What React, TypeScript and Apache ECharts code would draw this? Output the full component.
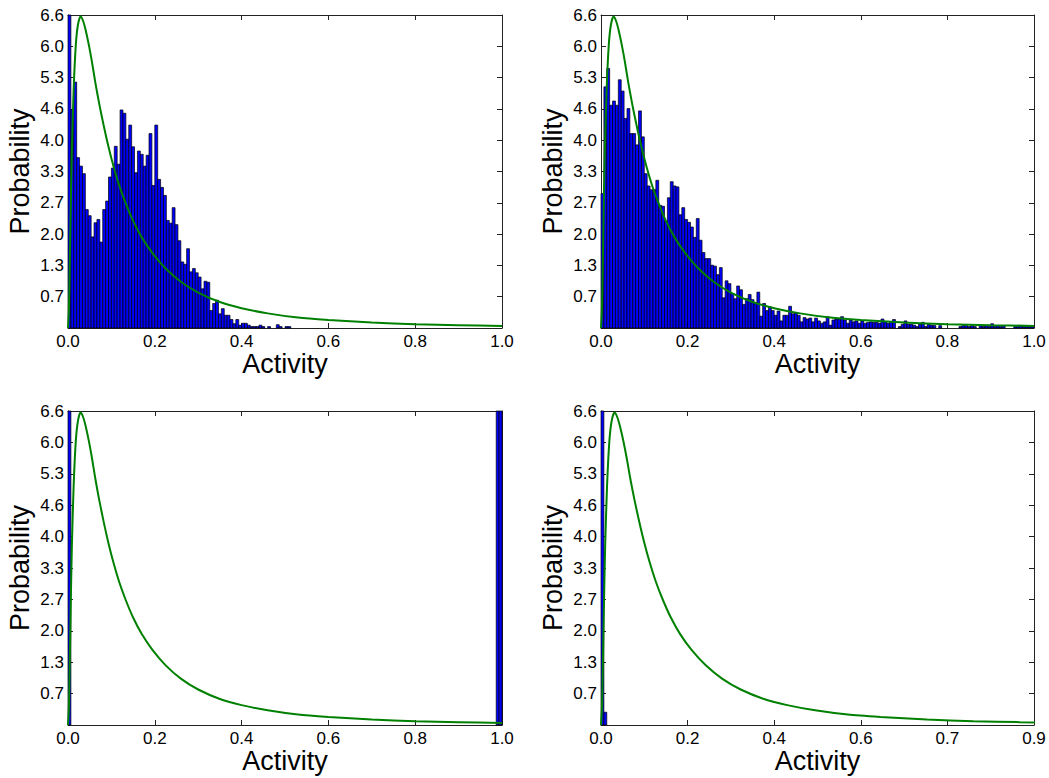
import React, { useEffect, useRef } from 'react';
import * as echarts from 'echarts';

// ---------- data ----------
const BIN_COUNT = 150;
const Y_MAX = 6.632;
const Y_STEP = 0.6632;
const yTickLabels = ['', '0.7', '1.3', '2.0', '2.7', '3.3', '4.0', '4.6', '5.3', '6.0', '6.6'];
const xTickLabelsFull = ['0.0', '0.2', '0.4', '0.6', '0.8', '1.0'];
const xTickLabelsShort = ['0.0', '0.2', '0.4', '0.6', '0.7', '0.9'];
const X_MAX_FULL = 1.0;
const X_STEP_FULL = 0.2;
const X_MAX_SHORT = 0.93;
const X_STEP_SHORT = 0.186;

// histogram heights per bin (bin i covers [i, i+1] * xMax / 150); missing bins are empty
const topLeftHeights = [
  9.5, 4.63, 5.21, 3.61, 3.43, 3.27, 2.51, 2.38, 1.93, 2.23,
  2.30, 1.82, 2.51, 2.69, 3.20, 3.39, 3.85, 3.47, 4.62, 4.55,
  4.00, 4.30, 3.84, 3.29, 3.75, 3.68, 3.43, 3.66, 4.12, 3.02,
  4.30, 3.15, 2.98, 2.81, 2.28, 2.22, 2.55, 2.19, 1.85, 1.40,
  1.35, 1.68, 1.19, 1.26, 1.17, 1.08, 0.83, 0.99, 0.97, 0.37,
  0.52, 0.59, 0.30, 0.41, 0.27, 0.27, 0.18, 0.09, 0.18, 0.06,
  0.10, 0.10, 0.06, 0.03, 0.03, 0.03, 0.06, 0.03, 0, 0.03,
  0, 0, 0.07, 0.03, 0, 0.03, 0.03, 0,
];

const topRightHeights = [
  2.85, 5.11, 5.50, 4.72, 4.81, 4.72, 5.26, 5.02, 4.44, 4.65,
  4.12, 4.12, 3.88, 4.60, 4.05, 3.27, 3.01, 2.93, 2.93, 3.13,
  2.60, 2.58, 2.26, 2.76, 3.10, 3.01, 2.99, 2.40, 2.55, 2.30,
  2.24, 2.14, 1.92, 2.32, 1.86, 1.60, 1.47, 1.47, 1.33, 1.31,
  1.13, 1.28, 0.64, 1.00, 0.94, 0.73, 0.62, 0.89, 0.81, 0.50,
  0.62, 0.71, 0.60, 0.54, 0.76, 0.25, 0.52, 0.37, 0.45, 0.37,
  0.27, 0.36, 0.15, 0.27, 0.27, 0.46, 0.30, 0.32, 0.27, 0.13,
  0.22, 0.19, 0.21, 0.13, 0.21, 0.15, 0.10, 0.13, 0.24, 0.06,
  0.17, 0.19, 0.19, 0.24, 0.17, 0.10, 0.17, 0.13, 0.15, 0.10,
  0.15, 0.10, 0.12, 0.13, 0.12, 0.12, 0.10, 0.19, 0.13, 0.10,
  0.13, 0.18, 0, 0.03, 0.08, 0.15, 0.08, 0.08, 0.06, 0.03,
  0.08, 0.12, 0.03, 0.08, 0.06, 0.05, 0, 0.05, 0, 0,
  0, 0, 0, 0, 0.03, 0.05, 0.05, 0.03, 0.05, 0.03,
  0, 0.05, 0.03, 0.05, 0.03, 0.09, 0.03, 0.05, 0.03, 0.05,
  0, 0, 0, 0.03, 0.03, 0.05, 0.03, 0.03, 0.03, 0.03,
];

// sparse bins: [binIndex, height]
const bottomLeftBins = [[0, 74.0], [148, 36.5], [149, 38.0]];
const bottomRightBins = [[0, 160.0], [1, 0.27]];

// fitted density curve
const curveX = [
  0, 0.002, 0.004, 0.006, 0.009, 0.013, 0.018, 0.023, 0.029, 0.035,
  0.041, 0.048, 0.055, 0.063, 0.072, 0.082, 0.093, 0.105, 0.118, 0.133,
  0.15, 0.17, 0.195, 0.225, 0.26, 0.3, 0.35, 0.4, 0.46, 0.53,
  0.6, 0.7, 0.8, 0.9, 1.0,
];
const curveY = [
  0, 0.35, 1.3, 2.4, 3.8, 5.05, 6.0, 6.43, 6.6, 6.5,
  6.3, 6.0, 5.65, 5.2, 4.75, 4.3, 3.85, 3.42, 3.02, 2.64,
  2.27, 1.92, 1.58, 1.26, 0.98, 0.75, 0.55, 0.42, 0.31, 0.22,
  0.17, 0.115, 0.08, 0.06, 0.044,
];

// ---------- layout ----------
const FONT = '"Liberation Sans", Arial, Helvetica, sans-serif';
const FRAME = '#222';
const grids = [
  { left: 68, top: 15, width: 434, height: 313 },
  { left: 601, top: 15, width: 433, height: 313 },
  { left: 68, top: 411, width: 434, height: 314 },
  { left: 601, top: 411, width: 433, height: 314 },
];

type Panel = { xMax: number; xStep: number; xLabels: string[]; bins: number[][] };

const panels: Panel[] = [
  { xMax: X_MAX_FULL, xStep: X_STEP_FULL, xLabels: xTickLabelsFull, bins: topLeftHeights.map((h, i) => [i, h]) },
  { xMax: X_MAX_FULL, xStep: X_STEP_FULL, xLabels: xTickLabelsFull, bins: topRightHeights.map((h, i) => [i, h]) },
  { xMax: X_MAX_FULL, xStep: X_STEP_FULL, xLabels: xTickLabelsFull, bins: bottomLeftBins },
  { xMax: X_MAX_SHORT, xStep: X_STEP_SHORT, xLabels: xTickLabelsShort, bins: bottomRightBins },
];

function buildOption() {
  const xAxis: any[] = [];
  const yAxis: any[] = [];
  const series: any[] = [];
  const tick = { show: true, inside: true, length: 5, lineStyle: { color: FRAME, width: 1 } };
  const line = { show: true, onZero: false, lineStyle: { color: FRAME, width: 1 } };

  panels.forEach((p, i) => {
    xAxis.push({
      type: 'value', gridIndex: i, position: 'bottom', min: 0, max: p.xMax, interval: p.xStep,
      axisLine: line, axisTick: tick, splitLine: { show: false },
      axisLabel: {
        show: true, margin: 5, fontSize: 17, color: '#000', fontFamily: FONT,
        showMinLabel: true, showMaxLabel: true,
        formatter: (v: number) => p.xLabels[Math.round(v / p.xStep)] ?? '',
      },
      name: 'Activity', nameLocation: 'middle', nameGap: 21,
      nameTextStyle: { fontSize: 27, color: '#000', fontFamily: FONT },
    });
    xAxis.push({
      type: 'value', gridIndex: i, position: 'top', min: 0, max: p.xMax, interval: p.xStep,
      axisLine: line, axisTick: tick, splitLine: { show: false }, axisLabel: { show: false },
    });
    yAxis.push({
      type: 'value', gridIndex: i, position: 'left', min: 0, max: Y_MAX, interval: Y_STEP,
      axisLine: line, axisTick: tick, splitLine: { show: false },
      axisLabel: {
        show: true, margin: 4, fontSize: 17, color: '#000', fontFamily: FONT,
        showMinLabel: true, showMaxLabel: true,
        formatter: (v: number) => yTickLabels[Math.round(v / Y_STEP)] ?? '',
      },
      name: 'Probability', nameLocation: 'middle', nameGap: 35,
      nameTextStyle: { fontSize: 27, color: '#000', fontFamily: FONT },
    });
    yAxis.push({
      type: 'value', gridIndex: i, position: 'right', min: 0, max: Y_MAX, interval: Y_STEP,
      axisLine: line, axisTick: tick, splitLine: { show: false }, axisLabel: { show: false },
    });

    const w = p.xMax / BIN_COUNT;
    const data = p.bins.filter((b) => b[1] > 0).map((b) => [b[0] * w, (b[0] + 1) * w, b[1]]);
    series.push({
      type: 'custom', xAxisIndex: 2 * i, yAxisIndex: 2 * i, silent: true, z: 2,
      encode: { x: [0, 1], y: 2 },
      data,
      renderItem: (params: any, api: any) => {
        const p0 = api.coord([api.value(0), 0]);
        const p1 = api.coord([api.value(1), api.value(2)]);
        const cs = params.coordSys;
        const top = Math.max(p1[1], cs.y);
        const right = Math.min(p1[0], cs.x + cs.width);
        return {
          type: 'rect',
          shape: { x: p0[0], y: top, width: right - p0[0], height: p0[1] - top },
          style: { fill: '#0000ff', stroke: '#000', lineWidth: 0.7 },
        };
      },
    });
    series.push({
      type: 'line', xAxisIndex: 2 * i, yAxisIndex: 2 * i, silent: true, z: 3,
      data: curveX.map((x, k) => [x, curveY[k]]),
      showSymbol: false, smooth: 0.25, clip: true,
      lineStyle: { color: '#008000', width: 2 },
    });
  });

  return {
    animation: false,
    backgroundColor: '#ffffff',
    grid: grids.map((g) => ({ ...g, containLabel: false })),
    xAxis, yAxis, series,
  };
}

export default function App() {
  const ref = useRef<HTMLDivElement>(null);
  useEffect(() => {
    if (!ref.current) return;
    const chart = echarts.init(ref.current, undefined, { renderer: 'svg' });
    chart.setOption(buildOption() as any);
    return () => chart.dispose();
  }, []);
  return (
    <div
      ref={ref}
      style={{ position: 'absolute', left: 0, top: 0, width: 1049, height: 778, background: '#fff' }}
    />
  );
}
